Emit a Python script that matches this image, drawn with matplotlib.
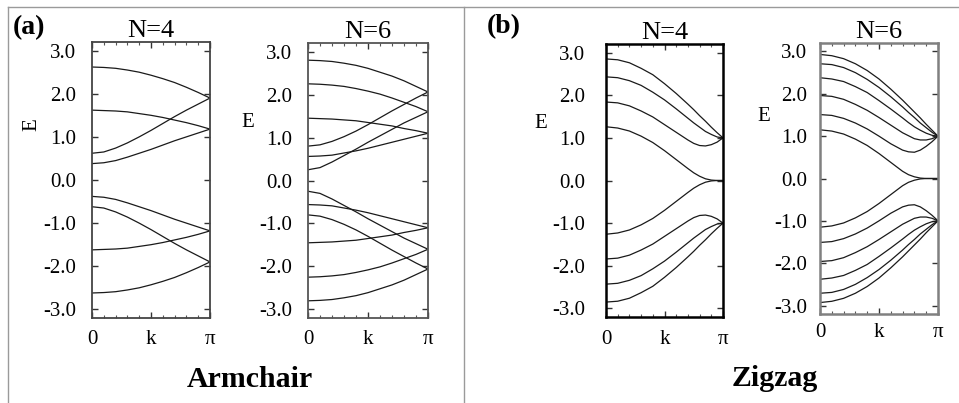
import matplotlib
matplotlib.use("Agg")
import matplotlib.pyplot as plt
from matplotlib.lines import Line2D

plt.rcParams["font.family"] = ["Liberation Serif", "DejaVu Serif"]

# k in units of pi
k_ac = [0.0, 0.1, 0.2, 0.3, 0.4, 0.5, 0.6, 0.7, 0.8, 0.9, 1.0]
k_zz = [0.0, 0.1, 0.2, 0.3, 0.4, 0.5, 0.6, 0.7, 0.75, 0.8, 0.85, 0.9, 0.95, 1.0]

# armchair N=4
ac4_upper = [
    [2.62, 2.61, 2.59, 2.55, 2.50, 2.43, 2.35, 2.26, 2.15, 2.03, 1.90],
    [1.62, 1.61, 1.60, 1.58, 1.54, 1.50, 1.45, 1.39, 1.33, 1.26, 1.18],
    [0.62, 0.65, 0.74, 0.86, 1.00, 1.15, 1.31, 1.47, 1.62, 1.76, 1.90],
    [0.38, 0.40, 0.45, 0.53, 0.62, 0.71, 0.81, 0.91, 1.00, 1.09, 1.18],
]
ac4_lower = [
    [-2.62, -2.61, -2.59, -2.55, -2.50, -2.43, -2.35, -2.26, -2.15, -2.03, -1.90],
    [-1.62, -1.61, -1.60, -1.58, -1.54, -1.50, -1.45, -1.39, -1.33, -1.26, -1.18],
    [-0.62, -0.65, -0.74, -0.86, -1.00, -1.15, -1.31, -1.47, -1.62, -1.76, -1.90],
    [-0.38, -0.40, -0.45, -0.53, -0.62, -0.71, -0.81, -0.91, -1.00, -1.09, -1.18],
]

# armchair N=6
ac6_upper = [
    [2.80, 2.79, 2.77, 2.73, 2.68, 2.61, 2.52, 2.43, 2.32, 2.19, 2.06],
    [2.25, 2.24, 2.22, 2.19, 2.14, 2.08, 2.01, 1.92, 1.82, 1.72, 1.60],
    [1.45, 1.44, 1.43, 1.41, 1.39, 1.35, 1.31, 1.27, 1.21, 1.16, 1.10],
    [0.80, 0.83, 0.91, 1.02, 1.15, 1.30, 1.46, 1.62, 1.77, 1.92, 2.06],
    [0.56, 0.57, 0.59, 0.64, 0.69, 0.75, 0.82, 0.89, 0.96, 1.03, 1.10],
    [0.25, 0.30, 0.43, 0.58, 0.73, 0.89, 1.04, 1.19, 1.34, 1.47, 1.60],
]
ac6_lower = [
    [-2.80, -2.79, -2.77, -2.73, -2.68, -2.61, -2.52, -2.43, -2.32, -2.19, -2.06],
    [-2.25, -2.24, -2.22, -2.19, -2.14, -2.08, -2.01, -1.92, -1.82, -1.72, -1.60],
    [-1.45, -1.44, -1.43, -1.41, -1.39, -1.35, -1.31, -1.27, -1.21, -1.16, -1.10],
    [-0.80, -0.83, -0.91, -1.02, -1.15, -1.30, -1.46, -1.62, -1.77, -1.92, -2.06],
    [-0.56, -0.57, -0.59, -0.64, -0.69, -0.75, -0.82, -0.89, -0.96, -1.03, -1.10],
    [-0.25, -0.30, -0.43, -0.58, -0.73, -0.89, -1.04, -1.19, -1.34, -1.47, -1.60],
]

# zigzag N=4
zz4_upper = [
    [2.85, 2.83, 2.76, 2.63, 2.48, 2.27, 2.04, 1.79, 1.66, 1.52, 1.39, 1.25, 1.12, 1.00],
    [2.43, 2.41, 2.34, 2.23, 2.07, 1.89, 1.68, 1.46, 1.35, 1.25, 1.15, 1.08, 1.02, 1.00],
    [1.84, 1.82, 1.75, 1.63, 1.49, 1.31, 1.13, 0.95, 0.87, 0.82, 0.81, 0.84, 0.90, 1.00],
    [1.26, 1.23, 1.16, 1.04, 0.89, 0.70, 0.49, 0.28, 0.18, 0.10, 0.04, 0.01, 0.00, 0.00],
]
zz4_lower = [
    [-2.85, -2.83, -2.76, -2.63, -2.48, -2.27, -2.04, -1.79, -1.66, -1.52, -1.39, -1.25, -1.12, -1.00],
    [-2.43, -2.41, -2.34, -2.23, -2.07, -1.89, -1.68, -1.46, -1.35, -1.25, -1.15, -1.08, -1.02, -1.00],
    [-1.84, -1.82, -1.75, -1.63, -1.49, -1.31, -1.13, -0.95, -0.87, -0.82, -0.81, -0.84, -0.90, -1.00],
    [-1.26, -1.23, -1.16, -1.04, -0.89, -0.70, -0.49, -0.28, -0.18, -0.10, -0.04, -0.01, 0.00, 0.00],
]

# zigzag N=6
zz6_upper = [
    [2.93, 2.90, 2.83, 2.71, 2.55, 2.35, 2.11, 1.85, 1.71, 1.57, 1.43, 1.28, 1.14, 1.00],
    [2.71, 2.69, 2.62, 2.50, 2.34, 2.15, 1.93, 1.69, 1.56, 1.44, 1.31, 1.20, 1.09, 1.00],
    [2.38, 2.35, 2.29, 2.17, 2.03, 1.84, 1.64, 1.43, 1.32, 1.22, 1.14, 1.07, 1.02, 1.00],
    [1.96, 1.94, 1.87, 1.75, 1.61, 1.44, 1.26, 1.08, 1.01, 0.94, 0.91, 0.91, 0.94, 1.00],
    [1.51, 1.49, 1.42, 1.31, 1.17, 1.00, 0.82, 0.67, 0.63, 0.62, 0.67, 0.76, 0.87, 1.00],
    [1.15, 1.12, 1.05, 0.93, 0.78, 0.59, 0.38, 0.17, 0.09, 0.04, 0.01, 0.00, 0.00, 0.00],
]
zz6_lower = [
    [-2.93, -2.90, -2.83, -2.71, -2.55, -2.35, -2.11, -1.85, -1.71, -1.57, -1.43, -1.28, -1.14, -1.00],
    [-2.71, -2.69, -2.62, -2.50, -2.34, -2.15, -1.93, -1.69, -1.56, -1.44, -1.31, -1.20, -1.09, -1.00],
    [-2.38, -2.35, -2.29, -2.17, -2.03, -1.84, -1.64, -1.43, -1.32, -1.22, -1.14, -1.07, -1.02, -1.00],
    [-1.96, -1.94, -1.87, -1.75, -1.61, -1.44, -1.26, -1.08, -1.01, -0.94, -0.91, -0.91, -0.94, -1.00],
    [-1.51, -1.49, -1.42, -1.31, -1.17, -1.00, -0.82, -0.67, -0.63, -0.62, -0.67, -0.76, -0.87, -1.00],
    [-1.15, -1.12, -1.05, -0.93, -0.78, -0.59, -0.38, -0.17, -0.09, -0.04, -0.01, 0.00, 0.00, 0.00],
]

ytick_vals = [3, 2, 1, 0, -1, -2, -3]
ytick_labels = ["3.0", "2.0", "1.0", "0.0", "-1.0", "-2.0", "-3.0"]
xtick_vals = [0, 0.5, 1]
xtick_labels = ["0", "k", "\u03c0"]

W, H = 959, 403
fig = plt.figure(figsize=(W / 100, H / 100), dpi=100)


def rect(left, right, top, bottom):
    return [left / W, 1 - bottom / H, (right - left) / W, (bottom - top) / H]


panels = [
    dict(rect=rect(92, 210, 42, 318), title="N=4", k=k_ac, up=ac4_upper, dn=ac4_lower,
         spine="#444444", slw=1.3, ypad=11.5, xpad=8.5, E=(-0.51, 0.70), Erot=90),
    dict(rect=rect(308, 428, 43, 318), title="N=6", k=k_ac, up=ac6_upper, dn=ac6_lower,
         spine="#555555", slw=1.3, ypad=11.5, xpad=8.5, E=(-0.50, 0.71), Erot=0),
    dict(rect=rect(606, 723, 44, 317), title="N=4", k=k_zz, up=zz4_upper, dn=zz4_lower,
         spine="#000000", slw=1.8, ypad=15, xpad=9.0, E=(-0.56, 0.71), Erot=0),
    dict(rect=rect(820, 938, 43, 314), title="N=6", k=k_zz, up=zz6_upper, dn=zz6_lower,
         spine="#808080", slw=1.8, ypad=9.5, xpad=6.5, E=(-0.475, 0.73), Erot=0),
]

for p in panels:
    ax = fig.add_axes(p["rect"])
    for band in p["up"]:
        ax.plot(p["k"], band, color="#1a1a1a", lw=0.9)
    for band in p["dn"]:
        ax.plot(p["k"], band, color="#1a1a1a", lw=0.9)

    ax.set_xlim(0, 1)
    ax.set_ylim(-3.2, 3.2)
    ax.set_yticks(ytick_vals)
    ax.set_yticklabels(ytick_labels)
    ax.set_xticks(xtick_vals)
    ax.set_xticklabels(xtick_labels)
    ax.set_xticks([0.1 * i for i in range(1, 10)], minor=True)
    ax.tick_params(which="major", direction="in", top=True, right=True,
                   length=4, width=1, labelsize=15, colors="#333333",
                   labelcolor="black")
    ax.tick_params(which="minor", direction="in", top=True, right=False,
                   length=2.5, width=0.8, colors="#555555")
    ax.tick_params(axis="y", pad=p["ypad"])
    ax.tick_params(axis="x", pad=p["xpad"])
    for s in ax.spines.values():
        s.set_color(p["spine"])
        s.set_linewidth(p["slw"])

    ax.set_title(p["title"], fontsize=19, pad=3.5)
    ax.text(p["E"][0], p["E"][1], "E", transform=ax.transAxes, fontsize=15,
            rotation=p["Erot"], ha="center", va="center")

# panel labels and captions
fig.text(13 / W, 1 - 28 / H, "(a)", fontsize=20, fontweight="bold", ha="left", va="center")
fig.text(487 / W, 1 - 27 / H, "(b)", fontsize=20, fontweight="bold", ha="left", va="center")
fig.text(250 / W, 1 - 387 / H, "Armchair", fontsize=21.5, fontweight="bold",
         ha="center", va="baseline")
fig.text(775 / W, 1 - 386 / H, "Zigzag", fontsize=21.5, fontweight="bold",
         ha="center", va="baseline")

# frame lines
frame = "#9a9a9a"
fig.add_artist(Line2D([8 / W, 1], [1 - 7 / H, 1 - 7 / H], transform=fig.transFigure, color=frame, lw=1))
fig.add_artist(Line2D([8 / W, 8 / W], [0, 1 - 7 / H], transform=fig.transFigure, color=frame, lw=1))
fig.add_artist(Line2D([464 / W, 464 / W], [0, 1 - 7 / H], transform=fig.transFigure, color=frame, lw=1))

fig.savefig("out.png", dpi=100)
